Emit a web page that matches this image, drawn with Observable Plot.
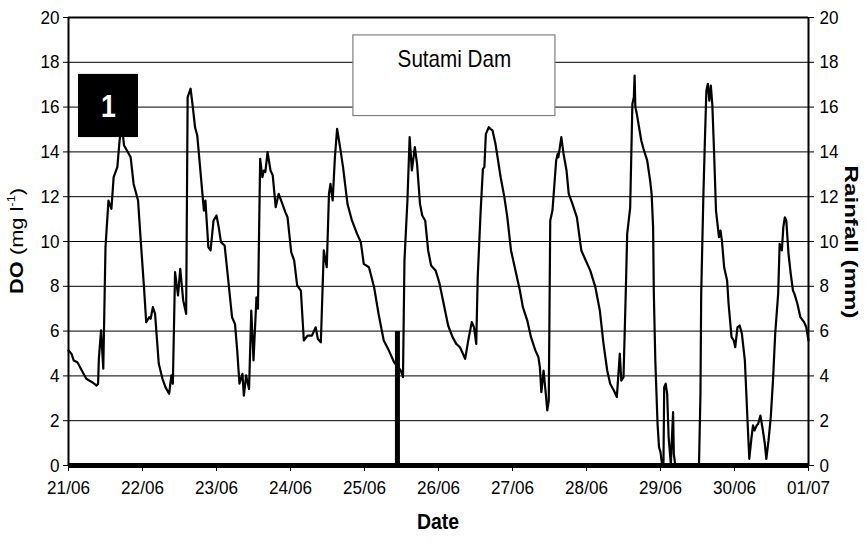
<!DOCTYPE html>
<html><head><meta charset="utf-8">
<script src="https://cdn.jsdelivr.net/npm/d3@7"></script>
<script src="https://cdn.jsdelivr.net/npm/@observablehq/plot@0.6"></script>
<style>
body{margin:0;background:#fff;}
#chart svg{display:block;}
</style></head><body><div id="chart"></div>
<script>
// x positions are days since 21/06 00:00
const dateTicks = [0,1,2,3,4,5,6,7,8,9,10];
const dateLabels = ["21/06","22/06","23/06","24/06","25/06","26/06","27/06","28/06","29/06","30/06","01/07"];
const yTicks = [0,2,4,6,8,10,12,14,16,18,20];

const doTime = [0.00,0.04,0.07,0.12,0.18,0.24,0.32,0.38,0.40,0.41,0.44,0.47,0.50,0.54,0.58,0.61,0.66,0.69,0.72,0.75,0.79,0.84,0.88,0.94,0.97,
1.02,1.05,1.09,1.11,1.14,1.17,1.22,1.27,1.31,1.36,1.39,1.41,1.44,1.48,1.51,1.55,1.59,1.61,1.65,1.68,1.71,1.74,1.77,1.81,1.83,1.85,1.89,1.92,1.96,
2.00,2.03,2.06,2.11,2.15,2.21,2.25,2.28,2.31,2.35,2.37,2.40,2.44,2.47,2.50,2.54,2.56,2.59,2.62,2.64,2.66,2.69,2.73,2.76,2.80,2.84,2.89,2.93,2.96,
3.01,3.05,3.09,3.14,3.18,3.23,3.29,3.34,3.37,3.41,3.45,3.49,3.52,3.54,3.57,3.60,3.63,3.67,3.71,3.77,3.83,3.90,3.95,3.99,
4.06,4.13,4.19,4.26,4.33,4.40,4.45,4.49,4.52,4.54,4.58,4.61,4.64,4.68,4.71,4.75,4.78,4.82,4.86,4.90,4.96,
5.01,5.07,5.13,5.19,5.24,5.29,5.33,5.36,5.41,5.45,5.48,5.51,5.53,5.57,5.60,5.62,5.64,5.68,5.70,5.73,5.77,5.84,5.89,5.93,5.98,
6.04,6.10,6.14,6.20,6.25,6.31,6.35,6.37,6.39,6.42,6.45,6.47,6.49,6.51,6.54,6.57,6.59,6.61,6.62,6.66,6.69,6.73,6.76,6.81,6.87,6.93,6.99,
7.05,7.12,7.18,7.23,7.28,7.32,7.37,7.41,7.45,7.47,7.50,7.53,7.55,7.59,7.62,7.64,7.65,7.66,7.68,7.71,7.74,7.77,7.82,7.86,7.88,7.90,7.91,7.93,7.96,7.98,
8.00,8.02,8.04,8.05,8.07,8.09,8.11,8.14,8.15,8.17,8.18,8.20,8.52,8.54,8.55,8.58,8.60,8.62,8.64,8.66,8.68,8.70,8.72,8.75,8.79,8.81,8.83,8.86,8.90,8.92,8.96,8.99,
9.01,9.04,9.07,9.10,9.14,9.16,9.18,9.20,9.23,9.25,9.27,9.30,9.32,9.35,9.38,9.41,9.43,9.46,9.49,9.52,9.55,9.59,9.61,9.64,9.66,9.68,9.70,9.73,9.76,9.79,9.81,9.85,9.89,9.94,9.97,10.00];
const doValue = [5.13,4.99,4.69,4.61,4.24,3.87,3.72,3.57,3.65,4.76,6.03,4.32,9.75,11.83,11.46,12.87,13.32,14.5,15.3,14.29,14.06,13.76,12.57,11.83,10.34,
7.96,6.40,6.62,6.55,7.07,6.77,4.54,3.87,3.50,3.20,4.02,3.65,8.63,7.59,8.78,7.37,6.77,16.44,16.82,16.0,15.1,14.73,13.62,12.13,11.38,11.83,9.75,9.6,10.94,
11.16,10.64,9.97,9.82,8.56,6.62,6.32,5.13,3.65,4.09,3.12,4.02,3.42,6.92,4.69,7.51,7.0,13.69,12.87,13.17,13.1,13.99,13.17,12.95,11.53,12.13,11.68,11.31,11.08,
9.52,9.15,8.04,7.81,5.58,5.80,5.80,6.17,5.65,5.50,9.6,8.85,12.13,12.57,11.83,13.76,15.03,14.21,13.32,11.68,10.94,10.34,9.97,9.0,
8.85,7.96,6.77,5.58,5.13,4.61,4.4,4.24,3.94,9.15,11.83,14.66,13.17,14.21,13.47,11.68,11.16,10.94,9.6,8.93,8.71,
8.18,7.22,6.25,5.73,5.43,5.28,4.99,4.76,5.73,6.40,6.17,5.43,8.41,11.38,13.24,13.32,14.80,15.10,15.03,14.96,14.36,12.87,11.98,11.08,9.6,
8.71,7.81,7.07,6.47,5.73,5.13,4.84,4.39,3.27,4.24,3.20,2.46,2.90,10.94,11.38,12.72,13.62,13.91,13.76,14.66,13.91,13.17,12.13,11.68,11.08,9.6,9.15,
8.71,7.96,6.92,5.43,4.24,3.65,3.35,3.05,4.99,3.79,3.94,7.66,10.34,11.5,16.14,16.44,17.41,16.0,15.70,15.10,14.51,14.14,13.62,12.72,12.13,10.64,7.66,4.69,1.86,0.82,
0.60,0.05,0.05,3.50,3.65,3.20,1.26,0.05,0.9,2.38,0.52,0.0,0.0,3.20,7.66,12.13,14.51,16.74,17.04,16.29,16.96,16.14,14.36,11.38,10.19,10.49,10.04,8.85,8.26,7.22,5.73,5.58,
5.28,6.17,6.25,5.88,4.69,3.20,1.71,0.30,1.26,1.79,1.56,1.79,1.86,2.23,1.64,0.97,0.30,1.12,2.16,3.79,5.88,7.66,9.90,9.6,10.64,11.08,10.94,9.45,8.56,7.81,7.66,7.22,6.62,6.40,6.17,5.58];

const rainTime = [0, 4.445, 4.445, 4.445, 10];
const rainValue = [0, 0, 6, 0, 0];

const doData = doTime.map((t, i) => ({t, v: doValue[i]}));
const rainData = rainTime.map((t, i) => ({t, v: rainValue[i]}));

const chart = Plot.plot({
  width: 866, height: 551,
  marginTop: 17, marginBottom: 86, marginLeft: 68, marginRight: 58,
  style: {fontFamily: "'Liberation Sans', Arial, sans-serif", fontSize: "19px", color: "#000", background: "#fff", overflow: "visible"},
  x: {domain: [0, 10]},
  y: {domain: [0, 20]},
  marks: [
    Plot.ruleY(yTicks, {stroke: "#000", strokeWidth: 1}),
    Plot.ruleY([20], {stroke: "#000", strokeWidth: 2}),
    Plot.ruleX([0, 10], {stroke: "#000", strokeWidth: 2}),
    Plot.axisX({ticks: dateTicks, tickFormat: d => dateLabels[d], tickSize: 6, tickPadding: 9, label: null, strokeOpacity: 1, fontSize: 19}),
    Plot.axisY({anchor: "left", ticks: yTicks, tickSize: 5, tickPadding: 4, label: null, strokeOpacity: 1, fontSize: 19}),
    Plot.axisY({anchor: "right", ticks: yTicks, tickSize: 5, tickPadding: 6, label: null, strokeOpacity: 1, fontSize: 19}),
    Plot.line(doData, {x: "t", y: "v", stroke: "#000", strokeWidth: 2.2, curve: "linear"}),
    Plot.line(rainData, {x: "t", y: "v", stroke: "#000", strokeWidth: 5, strokeLinejoin: "miter", strokeLinecap: "butt"}),
    Plot.rect([0], {x1: 3.85, x2: 6.58, y1: 15.6, y2: 19.2, fill: "#fff", stroke: "#808080", strokeWidth: 1.2}),
    Plot.text(["Sutami Dam"], {x: 5.215, y: 18.15, text: d => d, fontSize: 24, fill: "#000"}),
    Plot.rect([0], {x1: 0.135, x2: 0.946, y1: 14.64, y2: 17.46, fill: "#000"}),
    Plot.text(["1"], {x: 0.54, y: 16.0, text: d => d, fontSize: 31, fontWeight: "bold", fill: "#fff"})
  ]
});

document.getElementById("chart").appendChild(chart);
const svg = d3.select(chart);
svg.selectAll("text").attr("fill", "#000");
svg.selectAll("text").filter(function(){return this.textContent === "1";}).attr("fill", "#fff");

// Left axis label
const lt = svg.append("text")
  .attr("transform", "translate(23,241) rotate(-90)")
  .attr("text-anchor", "middle")
  .attr("font-size", 19)
  .attr("fill", "#000");
lt.append("tspan").attr("font-weight", "bold").text("DO");
lt.append("tspan").text(" (mg l");
lt.append("tspan").attr("font-size", 11).attr("dy", -8).text("-1");
lt.append("tspan").attr("dy", 8).text(")");

// Right axis label
const rt = svg.append("text")
  .attr("transform", "translate(845,242) rotate(90)")
  .attr("text-anchor", "middle")
  .attr("font-size", 19)
  .attr("font-weight", "bold")
  .attr("fill", "#000")
  .text("Rainfall (mm)");

// X axis label
const xt = svg.append("text")
  .attr("x", 438).attr("y", 529)
  .attr("text-anchor", "middle")
  .attr("font-size", 22)
  .attr("font-weight", "bold")
  .attr("fill", "#000")
  .text("Date");

// the reference text is drawn narrow and tall: compress along the reading direction
function squeeze(sel, f) {
  sel.each(function() {
    const w = this.getComputedTextLength();
    if (w > 0) { this.setAttribute("textLength", (w * f).toFixed(1)); this.setAttribute("lengthAdjust", "spacingAndGlyphs"); }
  });
}
squeeze(svg.selectAll("g[aria-label$='tick label'] text"), 0.9);
squeeze(svg.selectAll("g[aria-label='text'] text"), 0.86);
squeeze(xt, 0.88);
squeeze(lt, 1.15);
squeeze(rt, 1.27);
</script></body></html>
